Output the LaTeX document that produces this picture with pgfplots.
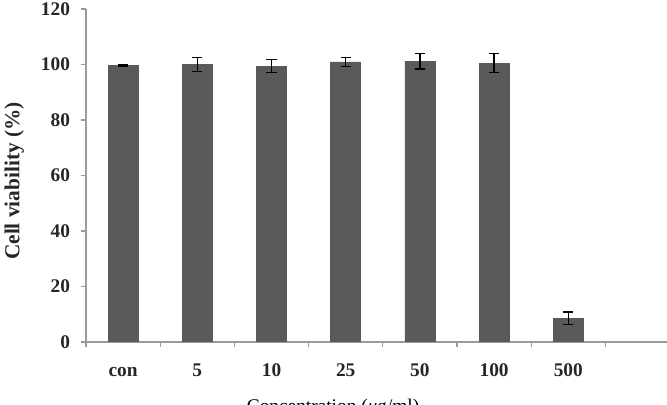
\documentclass[border=0pt]{standalone}
\usepackage{pgfplots}
\pgfplotsset{compat=1.18}
\usepackage{fontspec}
\setmainfont{Liberation Serif}
\definecolor{barc}{HTML}{5A5A5A}
\definecolor{axc}{HTML}{9A9A9A}
\begin{document}
\begin{tikzpicture}
\begin{axis}[
  scale only axis, width=435.75pt, height=249.75pt,
  xmin=-0.5, xmax=7.33, ymin=0, ymax=120,
  axis x line*=bottom, axis y line*=left,
  axis line style={axc, line width=0.8pt},
  ytick={0,20,...,120},
  xtick={0,...,6}, xticklabels={con,5,10,25,50,100,500},
  minor xtick={-0.5,0.5,...,6.5},
  major x tick style={draw=none},
  y tick style={axc, line width=0.8pt},
  minor x tick style={axc, line width=0.8pt},
  tick align=outside,
  major tick length=3.5pt, minor tick length=3.5pt,
  /pgf/number format/assume math mode=true,
  ticklabel style={font=\bfseries\fontsize{14.5}{15}\selectfont, text=black!85},
  xticklabel style={anchor=base, yshift=-22.5pt},
  yticklabel style={xshift=-5pt},
  xlabel={Concentration (\textit{μ}g/ml)},
  xlabel style={at={(axis cs:2.83,0)}, anchor=north, yshift=-39pt, font=\fontsize{14.5}{15}\selectfont},
  ylabel={Cell viability (\%)},
  ylabel style={at={([xshift=-43pt]axis cs:-0.5,58)}, anchor=south, rotate=0, font=\bfseries\fontsize{16}{17}\selectfont, text=black!85},
  ybar, bar width=22.5pt,
]
\addplot[fill=barc, draw=barc,
  error bars/.cd, y dir=both, y explicit,
  error bar style={black, line width=1pt},
  error mark options={rotate=90, mark size=3.8pt, black, line width=1pt}]
  coordinates {
  (0,99.7) +- (0,0.3)
  (1,100.0) +- (0,2.5)
  (2,99.4) +- (0,2.3)
  (3,100.9) +- (0,1.6)
  (4,101.2) +- (0,2.8)
  (5,100.5) +- (0,3.4)
  (6,8.6) +- (0,2.2)
  };
\end{axis}
\pgfresetboundingbox
\useasboundingbox ([xshift=-64.5pt,yshift=-47.25pt]current axis.south west) rectangle ([yshift=6.75pt]current axis.north east);
\end{tikzpicture}
\end{document}
